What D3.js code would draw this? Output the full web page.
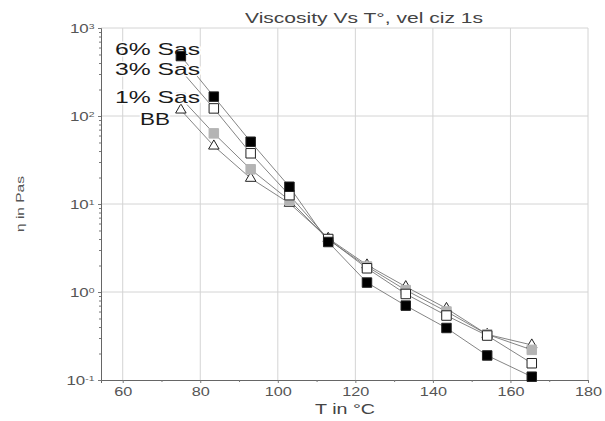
<!DOCTYPE html>
<html>
<head>
<meta charset="utf-8">
<script src="https://cdn.jsdelivr.net/npm/d3@7"></script>
<style>
  body { margin: 0; background: #fff; }
  text { font-family: "Liberation Sans", Arial, sans-serif; }
</style>
</head>
<body>
<svg id="chart" width="605" height="421"></svg>
<script>
// temperatures (deg C)
const temps = [75, 83.5, 93, 103, 113, 123, 133, 143.5, 154, 165.5];
// viscosity in Pa s
const sas6 = [480, 166, 51, 15.7, 3.7, 1.28, 0.70, 0.39, 0.19, 0.109];
const sas3 = [330, 122, 37.7, 12.6, 4.0, 1.86, 0.95, 0.54, 0.32, 0.155];
const sas1 = [160, 63.5, 24.8, 11, 3.95, 1.95, 1.05, 0.6, 0.33, 0.22];
const bb   = [117, 45.6, 19.6, 10.2, 4.07, 2.03, 1.15, 0.65, 0.33, 0.25];

const xTicks = [60, 80, 100, 120, 140, 160, 180];
const yTicks = [0.1, 1, 10, 100, 1000];

const svg = d3.select("#chart");
const margin = {left: 101, top: 28, right: 17, bottom: 41};
const W = 605, H = 421;

const x = d3.scaleLinear().domain([54.4, 180]).range([margin.left, W - margin.right]);
const y = d3.scaleLog().domain([0.1, 1000]).range([H - margin.bottom, margin.top]);

// grid
const grid = svg.append("g").attr("stroke", "#d4d4d4").attr("stroke-width", 1);
grid.selectAll(".gx").data(xTicks).enter().append("line")
  .attr("x1", d => x(d)).attr("x2", d => x(d))
  .attr("y1", y(0.1)).attr("y2", y(1000));
grid.selectAll(".gy").data(yTicks.slice(1)).enter().append("line")
  .attr("x1", x(54.4)).attr("x2", x(180))
  .attr("y1", d => y(d)).attr("y2", d => y(d));

// axes
const xAxis = d3.axisBottom(x).tickValues(xTicks).tickSize(3).tickPadding(4);
const xMinor = d3.axisBottom(x).tickValues([70, 90, 110, 130, 150, 170]).tickSize(2).tickFormat("");
const gx = svg.append("g").attr("transform", `translate(0,${y(0.1)})`).call(xAxis);
svg.append("g").attr("transform", `translate(0,${y(0.1)})`).call(xMinor)
  .call(g => g.select(".domain").remove());

const minorY = [];
[0.1, 1, 10, 100].forEach(b => { for (let k = 2; k <= 9; k++) minorY.push(b * k); });
const yAxis = d3.axisLeft(y).tickValues(yTicks).tickSize(3).tickFormat("");
const gy = svg.append("g").attr("transform", `translate(${x(54.4)},0)`).call(yAxis);
svg.append("g").attr("transform", `translate(${x(54.4)},0)`)
  .call(d3.axisLeft(y).tickValues(minorY).tickSize(2).tickFormat(""))
  .call(g => g.select(".domain").remove());

svg.selectAll(".domain").attr("stroke", "#666");
svg.selectAll(".tick line").attr("stroke", "#777");
gx.selectAll("text").attr("fill", "#555").style("font-size", "13px")
  .attr("transform", "scale(1.25,1)");

// y tick labels 10^n (stretched like the source)
gy.selectAll(".tick").each(function(d) {
  const t = d3.select(this).append("text")
    .attr("x", -5).attr("dy", "0.35em")
    .attr("text-anchor", "end").attr("fill", "#555").style("font-size", "13px")
    .attr("transform", "scale(1.3,1)");
  t.append("tspan").text("10");
  t.append("tspan").attr("dy", "-0.45em").style("font-size", "8px")
    .text(Math.round(Math.log10(d)));
});

// series
const series = [
  {name: "BB", vals: bb, shape: "tri", fill: "#fff"},
  {name: "1% Sas", vals: sas1, shape: "sq", fill: "#b4b4b4"},
  {name: "3% Sas", vals: sas3, shape: "sq", fill: "#fff"},
  {name: "6% Sas", vals: sas6, shape: "sq", fill: "#000"}
];

const line = d3.line().x(d => x(d[0])).y(d => y(d[1]));
series.forEach(s => {
  const pts = temps.map((t, i) => [t, s.vals[i]]);
  svg.append("path").datum(pts).attr("d", line)
    .attr("fill", "none").attr("stroke", "#666").attr("stroke-width", 0.8);
});

function drawMarks(s) {
  const pts = temps.map((t, i) => [t, s.vals[i]]);
  const sym = d3.symbol().type(s.shape === "tri" ? d3.symbolTriangle : d3.symbolSquare)
    .size(s.shape === "tri" ? 48 : 90);
  svg.append("g").selectAll("path").data(pts).enter().append("path")
    .attr("d", sym)
    .attr("transform", d => `translate(${x(d[0])},${y(d[1])})`)
    .attr("fill", s.fill)
    .attr("stroke", s.fill === "#b4b4b4" ? "#b4b4b4" : "#222")
    .attr("stroke-width", 1);
}
series.slice(0, 3).forEach(drawMarks);

// labels on plot, white halo hides marks underneath
const notes = [
  {t: "6% Sas", x: 115, y: 55, w: 85},
  {t: "3% Sas", x: 115, y: 75, w: 85},
  {t: "1% Sas", x: 115, y: 103, w: 85},
  {t: "BB", x: 140, y: 125, w: 30}
];
svg.selectAll(".note").data(notes).enter().append("text")
  .attr("x", d => d.x).attr("y", d => d.y)
  .attr("textLength", d => d.w).attr("lengthAdjust", "spacingAndGlyphs")
  .attr("fill", "#1a1a1a").attr("stroke", "#fff").attr("stroke-width", 3)
  .style("paint-order", "stroke").style("font-size", "17px")
  .text(d => d.t);

// black squares sit on top of the labels
drawMarks(series[3]);

// title and axis titles
svg.append("text").attr("x", 245).attr("y", 23)
  .attr("textLength", 238).attr("lengthAdjust", "spacingAndGlyphs")
  .attr("fill", "#444").style("font-size", "15px").text("Viscosity Vs T°, vel ciz 1s");
svg.append("text").attr("x", 315).attr("y", 414)
  .attr("textLength", 60).attr("lengthAdjust", "spacingAndGlyphs")
  .attr("fill", "#444").style("font-size", "14px").text("T in °C");
svg.append("text").attr("transform", "translate(24,232) rotate(-90)")
  .attr("textLength", 56).attr("lengthAdjust", "spacingAndGlyphs")
  .attr("fill", "#555").style("font-size", "10px")
  .text("η in Pas");
</script>
</body>
</html>
